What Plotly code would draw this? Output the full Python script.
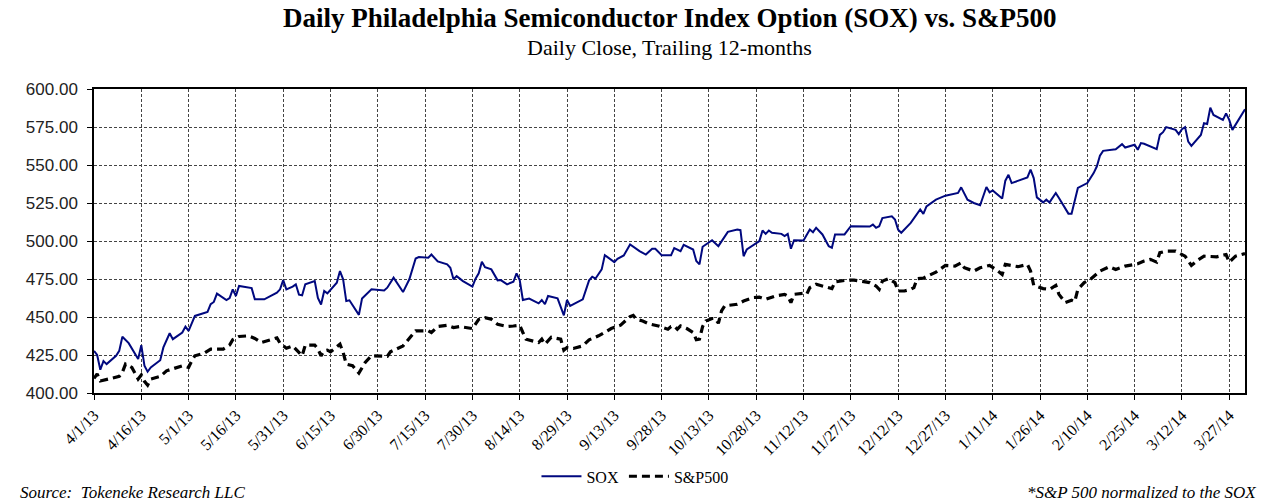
import pandas as pd
import plotly.graph_objects as go

BASE = "2013-04-01"

# SOX daily close (day offset from 4/1/13, value)
sox_day = [0, 1, 2, 3, 4, 7, 8, 9, 11, 14, 15, 16, 17, 18, 21, 22, 24, 25, 28, 29,
           30, 32, 36, 37, 38, 39, 42, 43, 44, 45, 46, 50, 51, 54, 58, 59, 60, 61, 63, 64,
           65, 66, 67, 70, 71, 72, 73, 74, 77, 78, 79, 80, 81, 84, 85, 88, 92, 93, 95, 98,
           100, 102, 103, 106, 107, 109, 112, 113, 114, 115, 117, 120, 121, 122, 123, 124, 126, 128, 129, 131,
           133, 134, 135, 136, 138, 141, 142, 143, 144, 147, 149, 150, 151, 155, 157, 158, 159, 161, 162, 165,
           166, 168, 170, 173, 175, 177, 178, 180, 183, 184, 186, 187, 190, 191, 192, 193, 196, 198, 201, 204,
           205, 206, 207, 211, 212, 213, 214, 215, 218, 219, 220, 221, 222, 225, 227, 228, 229, 231, 233, 234,
           235, 238, 240, 246, 247, 248, 249, 250, 253, 254, 255, 256, 259, 262, 263, 264, 267, 270, 274, 275,
           277, 279, 281, 282, 283, 284, 285, 288, 289, 290, 291, 296, 297, 298, 299, 301, 302, 303, 305, 306,
           309, 310, 312, 315, 317, 318, 319, 320, 324, 326, 327, 330, 331, 332, 333, 337, 338, 339, 340, 343,
           344, 345, 346, 347, 348, 351, 352, 353, 354, 355, 358, 359, 360, 361, 365]
sox_val = [427.7, 425.0, 415.3, 421.0, 419.0, 424.5, 427.7, 437.0, 432.8, 422.3, 431.5, 418.0, 414.0, 416.8, 421.6, 430.0, 439.3, 435.4, 439.8, 443.7,
           440.9, 450.7, 453.3, 458.4, 459.9, 465.4, 461.2, 462.5, 468.2, 463.8, 470.4, 469.0, 461.6, 461.6, 466.0, 468.2, 474.3, 468.2, 470.0, 471.5,
           464.7, 464.3, 471.5, 473.6, 462.5, 458.2, 467.1, 465.6, 472.6, 480.2, 474.8, 460.5, 461.0, 451.4, 462.1, 468.2, 467.5, 469.3, 475.9, 466.4,
           474.8, 488.5, 489.4, 489.0, 491.1, 486.6, 484.6, 482.4, 474.8, 476.9, 473.6, 470.0, 475.2, 478.7, 486.4, 482.8, 481.3, 474.1, 474.3, 471.5,
           473.2, 478.7, 474.3, 461.2, 462.1, 459.0, 461.2, 458.4, 463.8, 462.3, 451.1, 461.2, 457.3, 461.6, 474.1, 476.5, 475.2, 481.3, 490.7, 486.1,
           488.3, 490.5, 497.7, 493.3, 491.1, 494.9, 494.9, 490.7, 490.7, 495.3, 493.3, 497.5, 494.4, 486.8, 484.6, 496.2, 500.5, 496.6, 506.0, 507.5,
           507.1, 490.0, 494.4, 499.9, 506.9, 504.7, 506.9, 505.4, 504.7, 503.2, 504.7, 494.9, 500.5, 500.3, 507.5, 505.8, 508.7, 504.3, 496.6, 495.5,
           504.3, 504.3, 509.7, 509.5, 510.8, 508.7, 509.7, 515.1, 516.2, 514.1, 507.5, 505.4, 511.9, 520.7, 517.8, 522.8, 527.2, 529.8, 531.6, 535.3,
           527.2, 525.0, 523.5, 529.0, 535.5, 532.0, 533.3, 527.9, 539.7, 543.6, 538.1, 541.8, 546.9, 541.4, 528.7, 525.4, 527.2, 525.4, 531.6, 528.3,
           518.0, 518.0, 534.9, 538.1, 544.7, 549.0, 556.1, 559.3, 560.4, 563.7, 561.5, 563.3, 560.0, 564.4, 564.0, 560.4, 569.8, 571.6, 574.9, 573.1,
           570.3, 573.6, 574.9, 565.4, 562.6, 569.8, 577.5, 577.0, 587.7, 582.9, 579.7, 584.0, 579.7, 573.1, 586.7]

# S&P500 normalized to the SOX (day offset from 4/1/13, value)
spx_day = [0, 1, 2, 5, 8, 9, 10, 12, 14, 15, 16, 17, 18, 21, 23, 28, 30, 31, 32, 35,
           37, 41, 43, 44, 46, 49, 51, 53, 55, 58, 59, 61, 63, 65, 66, 67, 70, 71, 72, 73,
           74, 75, 78, 79, 80, 82, 84, 86, 88, 93, 94, 98, 100, 102, 106, 107, 109, 112, 114, 116,
           120, 122, 124, 126, 128, 131, 133, 135, 136, 137, 141, 142, 143, 145, 148, 149, 150, 152, 155, 157,
           160, 162, 164, 167, 170, 171, 172, 174, 176, 179, 182, 183, 184, 185, 186, 188, 190, 191, 192, 193,
           194, 196, 197, 198, 199, 200, 204, 206, 209, 211, 213, 216, 219, 220, 221, 222, 225, 226, 227, 229,
           232, 234, 235, 239, 241, 243, 246, 248, 249, 250, 252, 254, 255, 257, 259, 260, 261, 263, 267, 270,
           273, 275, 276, 279, 281, 284, 286, 288, 289, 293, 296, 297, 298, 301, 303, 305, 306, 308, 310, 311,
           312, 314, 316, 319, 322, 324, 327, 331, 333, 335, 337, 338, 340, 343, 346, 348, 350, 352, 354, 356,
           359, 360, 362, 365]
spx_val = [409.6, 412.5, 407.9, 409.2, 410.9, 413.6, 419.0, 416.8, 409.2, 411.8, 407.7, 405.2, 409.2, 410.9, 414.6, 417.9, 416.8, 421.2, 424.5, 426.2,
           428.9, 428.9, 431.5, 435.0, 437.2, 437.6, 435.9, 433.2, 434.3, 436.3, 432.8, 429.5, 431.0, 427.1, 424.5, 431.5, 431.5, 428.9, 424.5, 427.7,
           428.2, 427.1, 432.1, 426.7, 419.0, 417.9, 413.1, 420.1, 424.5, 424.1, 427.1, 431.0, 435.9, 440.9, 440.9, 439.8, 443.7, 444.6, 443.1, 443.7,
           442.4, 448.5, 449.6, 448.5, 445.2, 443.7, 444.1, 444.6, 439.8, 435.4, 433.2, 435.4, 432.1, 436.7, 435.4, 428.2, 429.9, 429.3, 431.0, 435.0,
           437.6, 439.8, 442.4, 444.6, 450.3, 451.1, 448.5, 447.4, 445.5, 444.1, 442.0, 443.7, 444.1, 442.0, 444.1, 442.4, 439.8, 435.0, 435.4, 443.7,
           447.4, 449.0, 449.0, 445.9, 454.0, 457.3, 458.4, 460.5, 462.8, 463.1, 461.6, 463.8, 464.9, 463.8, 459.5, 464.9, 465.6, 464.9, 469.3, 471.5,
           470.0, 468.7, 473.2, 474.3, 474.3, 473.6, 472.6, 470.4, 468.2, 473.6, 475.2, 472.6, 467.1, 467.1, 468.2, 469.3, 475.2, 475.6, 479.5, 483.9,
           483.5, 485.7, 482.4, 480.2, 482.4, 483.9, 481.3, 478.0, 484.6, 483.1, 484.6, 480.2, 470.8, 468.7, 468.2, 470.8, 464.9, 459.5, 461.0, 460.1,
           468.2, 472.6, 474.8, 480.2, 483.1, 481.3, 483.5, 485.0, 486.8, 487.9, 486.1, 492.3, 493.3, 493.3, 490.0, 483.9, 487.4, 490.0, 490.0, 489.6,
           491.1, 486.1, 490.0, 491.8]

y_ticks = [400, 425, 450, 475, 500, 525, 550, 575, 600]

base = pd.Timestamp(BASE)
sox_dates = base + pd.to_timedelta(sox_day, unit="D")
spx_dates = base + pd.to_timedelta(spx_day, unit="D")

SERIF = "Liberation Serif, Times New Roman, serif"
SANS = "Liberation Sans, Arial, sans-serif"

fig = go.Figure()
fig.add_trace(go.Scatter(x=sox_dates, y=sox_val, mode="lines", name="SOX",
                         line=dict(color="#00087f", width=2)))
fig.add_trace(go.Scatter(x=spx_dates, y=spx_val, mode="lines", name="S&P500",
                         line=dict(color="#000000", width=3.2, dash="8px,5px")))

fig.update_layout(
    width=1281, height=504,
    margin=dict(l=94, r=36, t=89, b=110),
    paper_bgcolor="white", plot_bgcolor="white",
    showlegend=True,
    legend=dict(orientation="h", x=0.47, xanchor="center", y=-0.27, yanchor="middle",
                font=dict(family=SERIF, size=16, color="#000"), itemwidth=40),
    annotations=[
        dict(text="<b>Daily Philadelphia Semiconductor Index Option (SOX) vs. S&P500</b>",
             xref="paper", yref="paper", x=0.5, y=1.234, xanchor="center", yanchor="middle",
             showarrow=False, font=dict(family=SERIF, size=27, color="#000")),
        dict(text="Daily Close, Trailing 12-months",
             xref="paper", yref="paper", x=0.5, y=1.138, xanchor="center", yanchor="middle",
             showarrow=False, font=dict(family=SERIF, size=22, color="#000")),
        dict(text="<i>Source:  Tokeneke Research LLC</i>",
             xref="paper", yref="paper", x=-0.066, y=-0.328, xanchor="left", yanchor="middle",
             showarrow=False, font=dict(family=SERIF, size=17, color="#000")),
        dict(text="<i>*S&P 500 normalized to the SOX</i>",
             xref="paper", yref="paper", x=1.0113, y=-0.328, xanchor="right", yanchor="middle",
             showarrow=False, font=dict(family=SERIF, size=17, color="#000")),
    ],
)

fig.update_xaxes(
    type="date", range=["2013-04-01", "2014-04-01"],
    tick0="2013-04-01", dtick=15 * 86400000, tickformat="%-m/%-d/%y",
    tickangle=-45, tickfont=dict(family=SERIF, size=16, color="#000"),
    ticks="outside", ticklen=5, tickcolor="#000",
    showgrid=True, gridcolor="#444", griddash="3px,2px", gridwidth=1,
    showline=True, linecolor="#000", linewidth=1.5, mirror=True,
    zeroline=False,
)
fig.update_yaxes(
    range=[400, 600], tickvals=y_ticks, tickformat=".2f",
    tickfont=dict(family=SANS, size=17, color="#222"),
    ticks="outside", ticklen=5, tickcolor="#000", ticklabelstandoff=6,
    showgrid=True, gridcolor="#444", griddash="3px,2px", gridwidth=1,
    showline=True, linecolor="#000", linewidth=1.5, mirror=True,
    zeroline=False,
)

fig.write_html("out.html")
